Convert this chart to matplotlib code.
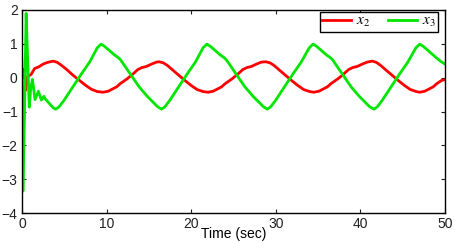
import matplotlib
matplotlib.use("Agg")
import matplotlib.pyplot as plt

# x2 (red) and x3 (green) trajectories
t_x2 = [0.0, 0.2, 0.35, 0.45, 0.6, 0.8, 1.1, 1.5, 2.0, 2.5, 3.0, 3.7,
        4.2, 4.7, 5.3, 6.0, 6.7, 7.5, 8.2, 8.9, 9.6,
        10.2, 11.2, 11.6, 12.4, 13.0, 13.7, 14.2, 14.7, 15.4, 15.9, 16.2,
        16.7, 17.2, 17.8, 18.5, 19.2, 20.0, 20.7, 21.4, 22.0,
        22.6, 23.6, 24.0, 24.8, 25.4, 26.1, 26.6, 27.1, 27.8, 28.3, 28.8,
        29.3, 29.8, 30.4, 31.1, 31.8, 32.6, 33.3, 34.0, 34.5,
        35.1, 36.1, 36.5, 37.3, 37.9, 38.6, 39.1, 39.6, 40.3, 40.8, 41.4,
        41.9, 42.4, 43.0, 43.7, 44.4, 45.2, 45.9, 46.6, 47.0,
        47.6, 48.6, 49.0, 49.6, 50.0]
v_x2 = [0.0, 0.25, 0.08, -0.37, 0.0, 0.05, 0.1, 0.27, 0.32, 0.40, 0.45, 0.49,
        0.45, 0.36, 0.24, 0.08, -0.06, -0.22, -0.34, -0.41, -0.43,
        -0.40, -0.27, -0.18, -0.04, 0.08, 0.24, 0.30, 0.33, 0.41, 0.46, 0.47,
        0.44, 0.36, 0.23, 0.08, -0.07, -0.23, -0.35, -0.41, -0.43,
        -0.40, -0.27, -0.18, -0.04, 0.08, 0.24, 0.30, 0.33, 0.41, 0.46, 0.47,
        0.44, 0.36, 0.23, 0.08, -0.07, -0.23, -0.35, -0.41, -0.43,
        -0.40, -0.27, -0.18, -0.04, 0.08, 0.24, 0.30, 0.33, 0.41, 0.46, 0.49,
        0.45, 0.36, 0.23, 0.08, -0.07, -0.23, -0.35, -0.41, -0.43,
        -0.40, -0.27, -0.18, -0.08, -0.06]

t_x3 = [0.0, 0.12, 0.3, 0.5, 0.7, 0.87, 1.05, 1.25, 1.55, 1.95, 2.3, 2.6, 2.7, 3.2, 3.7, 4.0,
        4.4, 5.0, 6.0, 7.0, 8.0, 8.9, 9.35,
        9.75, 10.35, 10.95, 11.35, 11.65, 12.15, 12.75, 13.85, 14.85, 15.45, 16.05, 16.5,
        16.9, 17.5, 18.5, 19.5, 20.5, 21.4, 21.85,
        22.25, 22.85, 23.45, 23.85, 24.15, 24.65, 25.25, 26.35, 27.35, 27.95, 28.55, 29.0,
        29.4, 30.0, 31.0, 32.0, 33.0, 33.95, 34.4,
        34.8, 35.4, 36.0, 36.4, 36.7, 37.2, 37.8, 38.9, 39.9, 40.5, 41.1, 41.6,
        42.0, 42.6, 43.6, 44.6, 45.6, 46.55, 47.0,
        47.4, 48.0, 48.6, 49.0, 49.5, 50.0]
v_x3 = [0.5, -3.35, -1.2, 1.9, 0.4, -0.87, -0.3, -0.05, -0.65, -0.4, -0.66, -0.55, -0.61, -0.75, -0.89, -0.93,
        -0.86, -0.66, -0.28, 0.10, 0.46, 0.88, 0.99,
        0.93, 0.80, 0.67, 0.60, 0.53, 0.35, 0.13, -0.27, -0.56, -0.71, -0.86, -0.93,
        -0.86, -0.66, -0.28, 0.10, 0.46, 0.88, 0.99,
        0.93, 0.80, 0.67, 0.60, 0.53, 0.35, 0.13, -0.27, -0.56, -0.71, -0.86, -0.93,
        -0.86, -0.66, -0.28, 0.10, 0.46, 0.88, 0.99,
        0.93, 0.80, 0.67, 0.60, 0.53, 0.35, 0.13, -0.27, -0.56, -0.71, -0.86, -0.93,
        -0.86, -0.66, -0.28, 0.10, 0.46, 0.88, 0.99,
        0.93, 0.80, 0.67, 0.58, 0.48, 0.40]

x_ticks = [0, 10, 20, 30, 40, 50]
y_ticks = [-4, -3, -2, -1, 0, 1, 2]

plt.rcParams["font.family"] = ["Liberation Sans", "DejaVu Sans"]
plt.rcParams["mathtext.fontset"] = "stix"

fig = plt.figure(figsize=(4.56, 2.43), dpi=100)
ax = fig.add_axes([0.048, 0.123, 0.928, 0.836])

ax.plot(t_x2, v_x2, color="#ff0000", linewidth=2.0, label="$x_2$")
ax.plot(t_x3, v_x3, color="#00e600", linewidth=2.0, label="$x_3$")

ax.set_xlim(0, 50)
ax.set_ylim(-4, 2)
ax.set_xticks(x_ticks)
ax.set_yticks(y_ticks)
ax.tick_params(direction="in", length=3, width=0.8, top=True, right=True,
               labelsize=10, pad=3, colors="#202020")
for sp in ax.spines.values():
    sp.set_linewidth(1.0)
    sp.set_color("black")

ax.set_xlabel("Time (sec)", fontsize=10, labelpad=-3)

leg = ax.legend(loc="upper right", bbox_to_anchor=(0.983, 0.99), ncol=2,
                fontsize=11, handlelength=1.9, handletextpad=0.3, columnspacing=1.2,
                borderpad=0.15, borderaxespad=0.0, fancybox=False, framealpha=1)
leg.get_frame().set_edgecolor("black")
leg.get_frame().set_linewidth(1.0)

fig.savefig("out.png", dpi=100)
